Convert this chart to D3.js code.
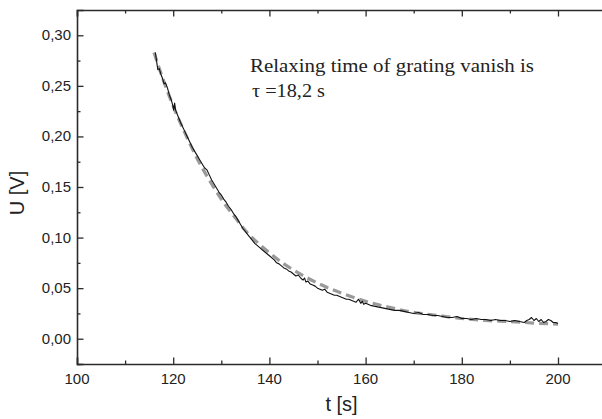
<!DOCTYPE html>
<html>
<head>
<meta charset="utf-8">
<script src="https://cdn.jsdelivr.net/npm/d3@7"></script>
<style>
  body { margin: 0; background: #fff; }
  svg { display: block; }
</style>
</head>
<body>
<div id="chart"></div>
<script>
// measured signal U(t)
const timeS = [
  116.3, 116.5, 116.8, 117.1, 117.4, 117.8, 118.1, 118.4, 118.8, 119.2,
  119.6, 119.9, 120.1, 120.3, 120.5, 121, 121.5, 122, 122.5, 123,
  123.5, 124, 124.5, 125, 125.5, 126, 126.5, 127, 127.5, 128,
  128.5, 129, 129.5, 130, 130.5, 131, 131.5, 132, 132.5, 133,
  133.5, 134, 134.5, 135, 135.5, 136, 136.5, 137, 137.5, 138,
  138.5, 139, 139.5, 140, 140.5, 141, 141.5, 142, 142.5, 143,
  143.5, 144, 144.5, 145, 145.5, 146, 146.5, 147, 147.3, 147.6,
  148, 148.5, 149, 149.5, 150, 150.5, 151, 151.5, 152, 152.5,
  153, 153.5, 154, 154.5, 155, 155.5, 156, 156.5, 157, 157.5,
  158, 158.5, 159, 159.3, 159.6, 160, 161, 162, 163, 164,
  165, 166, 167, 168, 169, 170, 171, 172, 173, 174,
  175, 176, 177, 178, 179, 180, 181, 182, 183, 184,
  185, 186, 187, 188, 189, 190, 191, 192, 193, 193.5,
  194, 194.5, 195, 195.5, 196, 196.5, 197, 197.5, 198, 198.5,
  199, 199.5, 200
];
const voltageV = [
  0.283, 0.276, 0.266, 0.267, 0.262, 0.257, 0.252, 0.253, 0.248, 0.241,
  0.236, 0.231, 0.226, 0.233, 0.226, 0.220, 0.214, 0.209, 0.204, 0.199,
  0.194, 0.189, 0.185, 0.181, 0.177, 0.173, 0.169, 0.167, 0.162, 0.157,
  0.153, 0.149, 0.145, 0.142, 0.138, 0.135, 0.131, 0.128, 0.124, 0.121,
  0.117, 0.113, 0.109, 0.106, 0.103, 0.100, 0.097, 0.094, 0.092, 0.090,
  0.088, 0.086, 0.084, 0.082, 0.080, 0.078, 0.075, 0.074, 0.072, 0.070,
  0.069, 0.067, 0.066, 0.064, 0.062, 0.063, 0.060, 0.058, 0.060, 0.056,
  0.057, 0.054, 0.053, 0.052, 0.050, 0.049, 0.048, 0.049, 0.046, 0.045,
  0.044, 0.043, 0.043, 0.042, 0.041, 0.040, 0.039, 0.039, 0.038, 0.037,
  0.036, 0.039, 0.035, 0.037, 0.034, 0.035, 0.033, 0.032, 0.031, 0.030,
  0.029, 0.028, 0.028, 0.027, 0.026, 0.025, 0.026, 0.024, 0.024, 0.023,
  0.023, 0.022, 0.021, 0.021, 0.022, 0.020, 0.020, 0.019, 0.020, 0.019,
  0.019, 0.018, 0.019, 0.018, 0.018, 0.017, 0.018, 0.017, 0.016, 0.018,
  0.019, 0.021, 0.018, 0.020, 0.017, 0.019, 0.016, 0.017, 0.019, 0.018,
  0.016, 0.016, 0.015
];

// exponential fit
const fitTime = [116, 118, 120, 122, 125, 128, 130, 133, 135, 138, 140, 143, 145, 150, 155, 160, 165, 170, 175, 180, 185, 190, 195, 200];
const fitVoltage = [0.283, 0.255, 0.230, 0.208, 0.178, 0.153, 0.138, 0.119, 0.107, 0.093, 0.085, 0.074, 0.068, 0.055, 0.045, 0.037, 0.031, 0.026, 0.023, 0.020, 0.018, 0.017, 0.0155, 0.0145];

const xTicks = [100, 120, 140, 160, 180, 200];
const yTicks = [0, 0.05, 0.10, 0.15, 0.20, 0.25, 0.30];
const annotation = ["Relaxing time of grating vanish is", "\u03C4 =18,2 s"];

const W = 602, H = 419;
const margin = { top: 10, left: 77, bottom: 55 };
const axisColor = "#2b2b2b";

const svg = d3.select("#chart").append("svg")
    .attr("width", W)
    .attr("height", H);

const x = d3.scaleLinear().domain([100, 210]).range([margin.left, margin.left + 110 * 4.81]);
const y = d3.scaleLinear().domain([-0.025, 0.325]).range([H - margin.bottom, margin.top]);

const fmtY = v => d3.format(".2f")(v).replace(".", ",");

// fit curve (gray dashes)
const fitData = fitTime.map((t, i) => [t, fitVoltage[i]]);
svg.append("path")
    .datum(fitData)
    .attr("fill", "none")
    .attr("stroke", "#9a9a9a")
    .attr("stroke-width", 3.2)
    .attr("stroke-dasharray", "9,5")
    .attr("d", d3.line().x(d => x(d[0])).y(d => y(d[1])).curve(d3.curveMonotoneX));

// measured signal (black)
const sigData = timeS.map((t, i) => [t, voltageV[i]]);
svg.append("path")
    .datum(sigData)
    .attr("fill", "none")
    .attr("stroke", "#111")
    .attr("stroke-width", 1.1)
    .attr("stroke-linejoin", "round")
    .attr("d", d3.line().x(d => x(d[0])).y(d => y(d[1])));

// Add X Axis (ticks inside)
const xAxis = svg.append("g")
    .attr("transform", `translate(0,${y.range()[0]})`)
    .call(d3.axisTop(x).tickValues(xTicks).tickSize(6.5).tickFormat(""));
const xMinor = svg.append("g")
    .attr("transform", `translate(0,${y.range()[0]})`)
    .call(d3.axisTop(x).tickValues(d3.range(110, 211, 20)).tickSize(3.5).tickFormat(""));

// top frame with inner ticks
const topAxis = svg.append("g")
    .attr("transform", `translate(0,${margin.top})`)
    .call(d3.axisBottom(x).tickValues(xTicks).tickSize(6.5).tickFormat(""));
const topMinor = svg.append("g")
    .attr("transform", `translate(0,${margin.top})`)
    .call(d3.axisBottom(x).tickValues(d3.range(110, 211, 20)).tickSize(3.5).tickFormat(""));

// Add Y Axis
const yAxis = svg.append("g")
    .attr("transform", `translate(${margin.left},0)`)
    .call(d3.axisRight(y).tickValues(yTicks).tickSize(6.5).tickFormat(""));
const yMinor = svg.append("g")
    .attr("transform", `translate(${margin.left},0)`)
    .call(d3.axisRight(y).tickValues([-0.025, 0.025, 0.075, 0.125, 0.175, 0.225, 0.275]).tickSize(3.5).tickFormat(""));

[xAxis, xMinor, topAxis, topMinor, yAxis, yMinor].forEach(g => {
    g.selectAll("path.domain").attr("stroke", axisColor).attr("stroke-width", 1.6);
    g.selectAll(".tick line").attr("stroke", axisColor).attr("stroke-width", 1.3);
});
[xMinor, topMinor, yMinor].forEach(g => g.select("path.domain").remove());

// tick labels
svg.append("g").selectAll("text")
    .data(xTicks)
    .join("text")
    .attr("x", d => x(d))
    .attr("y", y.range()[0] + 20)
    .attr("text-anchor", "middle")
    .style("font-family", "'Liberation Sans', Arial, sans-serif")
    .style("font-size", "15px")
    .attr("fill", "#222")
    .text(d => d);

svg.append("g").selectAll("text")
    .data(yTicks)
    .join("text")
    .attr("x", margin.left - 6)
    .attr("y", d => y(d) + 5)
    .attr("text-anchor", "end")
    .style("font-family", "'Liberation Sans', Arial, sans-serif")
    .style("font-size", "15px")
    .attr("fill", "#222")
    .text(d => fmtY(d));

// Add Axis Labels
svg.append("text")
    .attr("x", (x.range()[0] + x.range()[1]) / 2)
    .attr("y", 411)
    .attr("text-anchor", "middle")
    .style("font-family", "'Liberation Sans', Arial, sans-serif")
    .style("font-size", "20px")
    .attr("fill", "#222")
    .text("t [s]");

svg.append("text")
    .attr("transform", "translate(24,193) rotate(-90)")
    .attr("text-anchor", "middle")
    .style("font-family", "'Liberation Sans', Arial, sans-serif")
    .style("font-size", "20px")
    .attr("fill", "#222")
    .text("U [V]");

// annotation (text is a bit wide in the original)
const annWidths = [284, 73];
svg.append("g").selectAll("text")
    .data(annotation)
    .join("text")
    .attr("x", (d, i) => i === 0 ? 250 : 252)
    .attr("y", (d, i) => 72 + i * 25)
    .attr("textLength", (d, i) => annWidths[i])
    .attr("lengthAdjust", "spacingAndGlyphs")
    .style("font-family", "'Liberation Serif', 'Times New Roman', serif")
    .style("font-size", "19px")
    .attr("fill", "#222")
    .text(d => d);
</script>
</body>
</html>
